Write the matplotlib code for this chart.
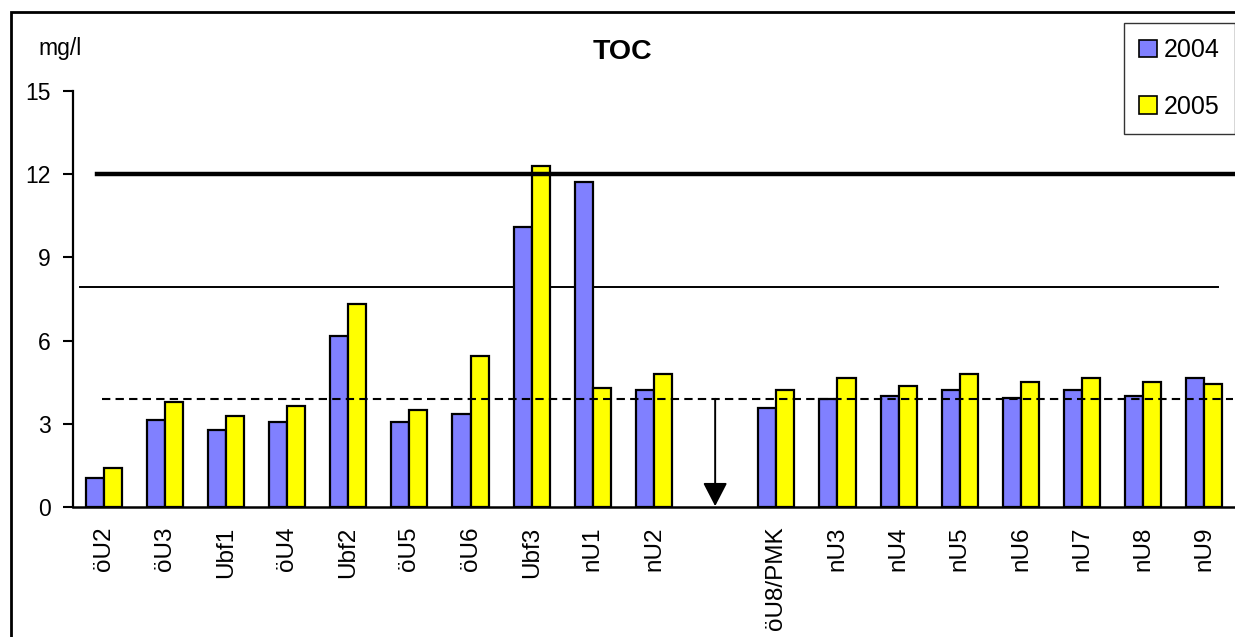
import numpy as np
import matplotlib.pyplot as plt
from matplotlib.patches import Rectangle, Patch

plt.rcParams['font.family'] = ['Liberation Sans', 'DejaVu Sans']

# TOC concentrations per sampling point (mg/l); the empty slot separates the two groups
stations = ['öU2', 'öU3', 'Ubf1', 'öU4', 'Ubf2', 'öU5', 'öU6', 'Ubf3', 'nU1', 'nU2', '',
            'öU8/PMK', 'nU3', 'nU4', 'nU5', 'nU6', 'nU7', 'nU8', 'nU9']
toc_2004 = [1.06, 3.15, 2.79, 3.08, 6.18, 3.08, 3.36, 10.09, 11.73, 4.22, np.nan,
            3.58, 3.88, 4.01, 4.23, 3.94, 4.23, 4.01, 4.66]
toc_2005 = [1.42, 3.80, 3.29, 3.65, 7.33, 3.51, 5.46, 12.31, 4.30, 4.81, np.nan,
            4.22, 4.66, 4.37, 4.81, 4.52, 4.66, 4.52, 4.45]
years = ['2004', '2005']
limit_upper = 12.0
limit_mid = 7.92
limit_lower = 3.9
arrow_slot = 10

W, H = 1235, 637
fig = plt.figure(figsize=(W / 100, H / 100), dpi=100)
ax = fig.add_axes([73 / W, (H - 507) / H, (W - 73) / W, (507 - 91) / H])

x = np.arange(len(stations))
bw = 0.295
ax.bar(x - bw / 2, toc_2004, width=bw, color='#8080FF', edgecolor='black', linewidth=1.6, zorder=3)
ax.bar(x + bw / 2, toc_2005, width=bw, color='#FFFF00', edgecolor='black', linewidth=1.6, zorder=3)

# reference lines
ax.plot([-0.1, 18.46], [limit_upper, limit_upper], color='black', lw=3.2, zorder=4)
ax.plot([-0.38, 18.22], [limit_mid, limit_mid], color='black', lw=1.4, zorder=2)
ax.plot([-0.02, 18.47], [limit_lower, limit_lower], color='black', lw=1.5,
        ls=(0, (4, 2.5)), zorder=5)
ax.annotate('', xy=(arrow_slot, 0.03), xytext=(arrow_slot, limit_lower),
            arrowprops=dict(arrowstyle='-|>,head_length=1.45,head_width=0.75',
                            color='black', lw=1.4, shrinkA=0, shrinkB=0))

ax.set_xlim(-0.5, 18.5)
ax.set_ylim(0, 15)
ax.set_yticks([0, 3, 6, 9, 12, 15])
ax.set_xticks(x)
ax.set_xticklabels(stations, rotation=90, fontsize=17.5)
ax.tick_params(axis='x', length=0, pad=14)
ax.tick_params(axis='y', length=7, width=1.5, pad=9, labelsize=16.5)
for side in ['top', 'right']:
    ax.spines[side].set_visible(False)
ax.spines['left'].set_linewidth(1.6)
ax.spines['bottom'].set_linewidth(1.8)

fig.text(60 / W, 1 - 48 / H, 'mg/l', fontsize=16.5, ha='center', va='center')
fig.text(622 / W, 1 - 52 / H, 'TOC', fontsize=20.5, fontweight='bold', ha='center', va='center')

handles = [Patch(facecolor='#8080FF', edgecolor='black', linewidth=1.2),
           Patch(facecolor='#FFFF00', edgecolor='black', linewidth=1.2)]
leg = fig.legend(handles, years, loc='upper left', bbox_to_anchor=(1124 / W, 1 - 23 / H),
                 fontsize=18, frameon=True, fancybox=False, handlelength=0.7,
                 handleheight=0.7, handletextpad=0.3, labelspacing=1.3,
                 borderpad=0.6, borderaxespad=0)
leg.get_frame().set_edgecolor('black')
leg.get_frame().set_linewidth(1.0)

# outer chart border
fig.patches.append(Rectangle((11 / W, -0.1), 1.2, 1 - 12 / H + 0.1, transform=fig.transFigure,
                             fill=False, edgecolor='black', linewidth=2.0))

fig.savefig('out.png', dpi=100)
